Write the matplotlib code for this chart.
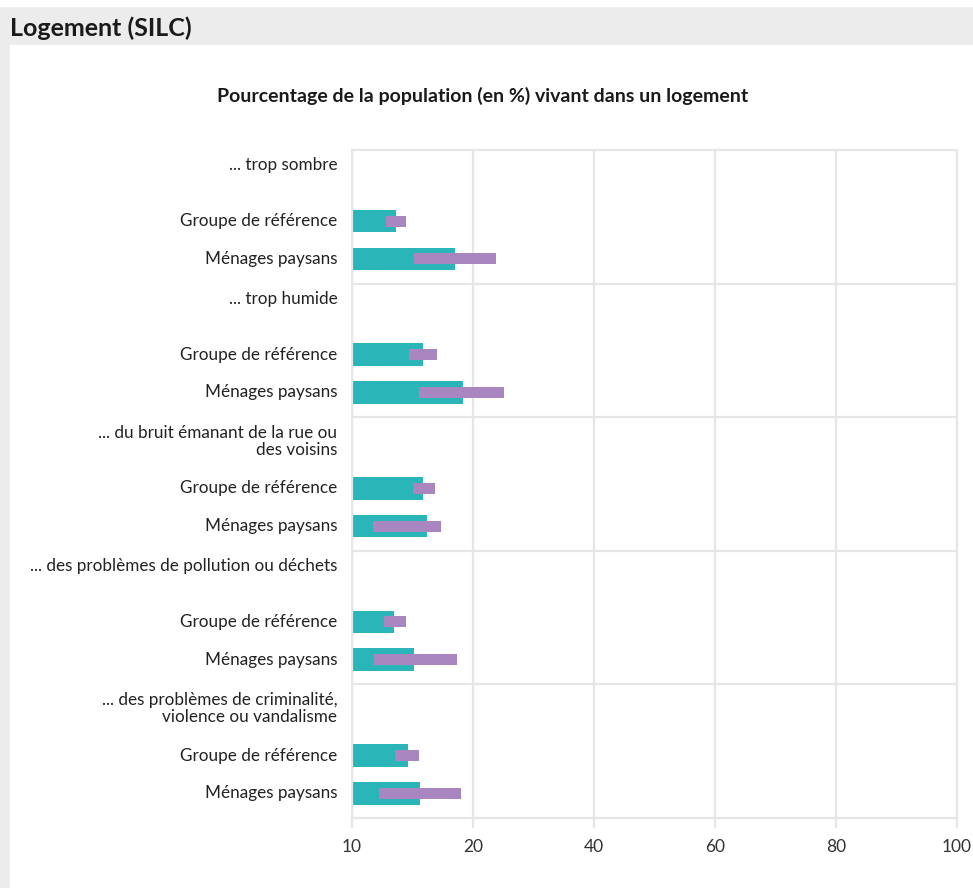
import matplotlib.pyplot as plt
from matplotlib.patches import Rectangle

plt.rcParams['font.family'] = ['Lato', 'DejaVu Sans']

# Données (en %)
themes = ["... trop sombre",
          "... trop humide",
          "... du bruit émanant de la rue ou\ndes voisins",
          "... des problèmes de pollution ou déchets",
          "... des problèmes de criminalité,\nviolence ou vandalisme"]
groupes = ["Groupe de référence", "Ménages paysans"]

ref_val = [7.3, 11.8, 11.8, 7.0, 9.3]
ref_bas = [5.6, 9.5, 10.0, 5.3, 7.1]
ref_haut = [9.0, 14.1, 13.8, 8.9, 11.1]

pay_val = [17.0, 18.3, 12.4, 10.2, 11.2]
pay_bas = [10.2, 11.1, 3.4, 3.7, 4.5]
pay_haut = [23.8, 25.2, 14.7, 17.3, 18.0]

tick_pos = [0, 20, 40, 60, 80, 100]
tick_lab = ["10", "20", "40", "60", "80", "100"]

teal = "#2ab5b8"
violet = "#a986c0"
grille = "#e6e6e6"

fig = plt.figure(figsize=(9.73, 8.88), dpi=100)

# fond gris + bandeau
fig.patches.append(Rectangle((0, 0), 1, 1, transform=fig.transFigure,
                             color="#ececec", zorder=-3))
fig.patches.append(Rectangle((10/973, 0), 1, (888-45)/888, transform=fig.transFigure,
                             color="white", zorder=-2))
fig.patches.append(Rectangle((0, (888-6)/888), 1, 6/888, transform=fig.transFigure,
                             color="white", zorder=-2))
fig.text(10/973, 1 - 28/888, "Logement (SILC)", fontsize=18, fontweight="bold",
         color="#1a1a1a", va="center", ha="left")
fig.text(483/973, 1 - 96/888,
         "Pourcentage de la population (en %) vivant dans un logement",
         fontsize=14, fontweight="bold", color="#1a1a1a", ha="center", va="center")

ax = fig.add_axes([352/973, (888-818)/888, (957-352)/973, (818-150)/888])

h_grp = 4
y_lab = 0.22
y_ref = 2.13
y_pay = 3.26

for i in range(len(themes)):
    y0 = i * h_grp
    ax.text(-0.024, y0 + y_lab, themes[i], transform=ax.get_yaxis_transform(),
            ha="right", va="top", fontsize=12.3, color="#222222", linespacing=1.1)
    for y, lab in [(y0 + y_ref, groupes[0]), (y0 + y_pay, groupes[1])]:
        ax.text(-0.024, y, lab, transform=ax.get_yaxis_transform(),
                ha="right", va="center", fontsize=12.3, color="#222222")

    ax.barh(y0 + y_ref, ref_val[i], height=0.68, color=teal, zorder=2)
    ax.barh(y0 + y_ref, ref_haut[i] - ref_bas[i], left=ref_bas[i], height=0.33,
            color=violet, zorder=3)
    ax.barh(y0 + y_pay, pay_val[i], height=0.68, color=teal, zorder=2)
    ax.barh(y0 + y_pay, pay_haut[i] - pay_bas[i], left=pay_bas[i], height=0.33,
            color=violet, zorder=3)

ax.set_xlim(0, 100)
ax.set_ylim(len(themes) * h_grp, 0)
ax.set_xticks(tick_pos, tick_lab)
ax.set_yticks([])
for g in range(1, len(themes)):
    ax.axhline(g * h_grp, color=grille, lw=1.6, zorder=0)
ax.grid(axis="x", color=grille, lw=1.6, zorder=0)
for s in ax.spines.values():
    s.set_color(grille)
    s.set_linewidth(1.6)
ax.tick_params(axis="x", length=7, width=1.6, color=grille, labelsize=12.5,
               labelcolor="#333333", pad=8)

fig.savefig("out.png", dpi=100)
